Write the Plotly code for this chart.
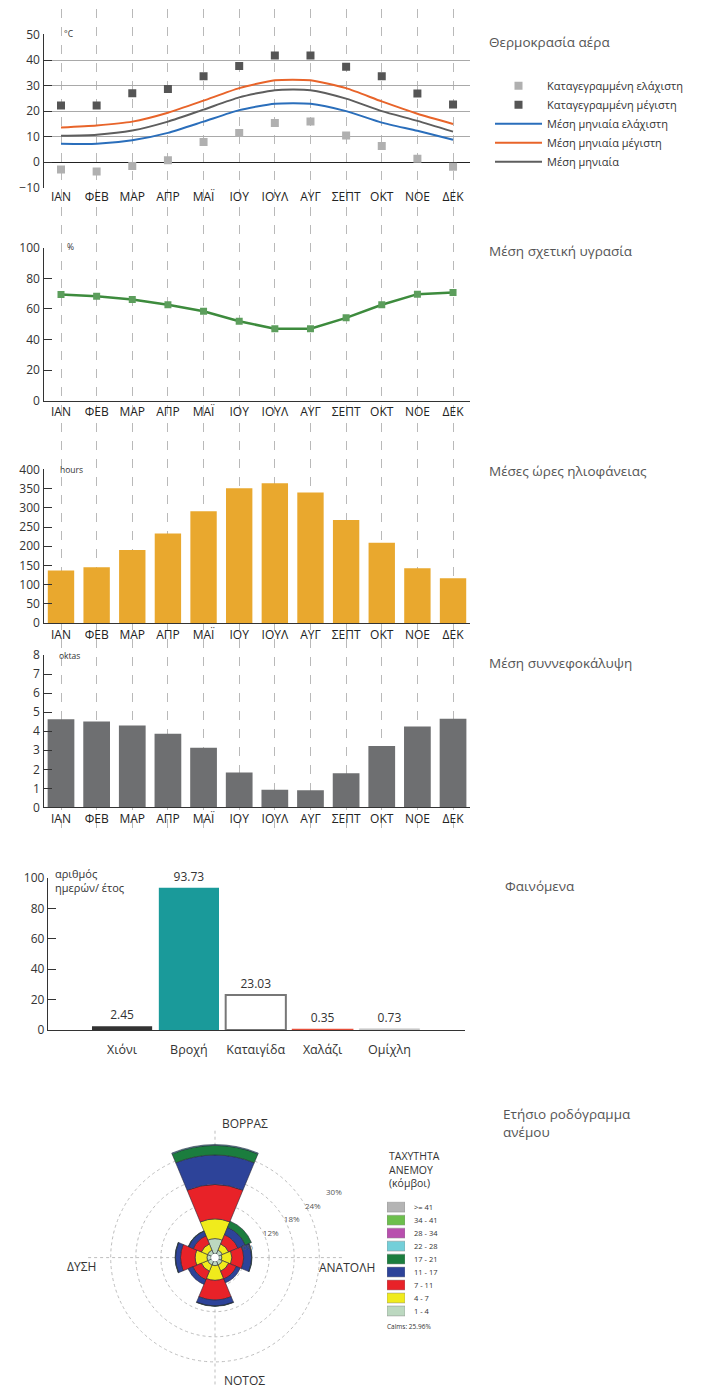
import plotly.graph_objects as go

W, H = 707, 1395

# ---------------- data ----------------
months = ["ΙΑΝ", "ΦΕΒ", "ΜΑΡ", "ΑΠΡ", "ΜΑΪ", "ΙΟΥ", "ΙΟΥΛ", "ΑΥΓ", "ΣΕΠΤ", "ΟΚΤ", "ΝΟΕ", "ΔΕΚ"]
month_idx = list(range(len(months)))

rec_min = [-2.8, -3.6, -1.5, 0.8, 7.9, 11.4, 15.4, 15.9, 10.5, 6.4, 1.4, -1.8]
rec_max = [22.2, 22.2, 27.0, 28.7, 33.7, 37.7, 41.8, 41.8, 37.4, 33.7, 26.9, 22.6]
mean_min = [7.2, 7.2, 8.6, 11.5, 15.9, 20.4, 22.9, 22.9, 20.0, 15.5, 12.3, 8.8]
mean_max = [13.6, 14.4, 15.9, 19.4, 24.1, 29.0, 32.1, 32.1, 29.0, 23.8, 19.0, 15.0]
mean_t = [10.4, 10.8, 12.4, 15.9, 20.6, 25.4, 28.2, 28.2, 24.9, 20.0, 16.2, 12.0]

humidity = [69.5, 68.4, 66.2, 62.8, 58.5, 52.0, 47.1, 47.1, 54.2, 62.8, 69.7, 70.8]
sunshine = [137, 145, 190, 233, 291, 351, 364, 340, 268, 209, 143, 117]
cloud = [4.63, 4.51, 4.30, 3.87, 3.13, 1.83, 0.93, 0.90, 1.80, 3.23, 4.25, 4.65]

temp_ticks = [-10, 0, 10, 20, 30, 40, 50]
temp_grid = [10, 20, 30, 40]
hum_ticks = [0, 20, 40, 60, 80, 100]
sun_ticks = [0, 50, 100, 150, 200, 250, 300, 350, 400]
cloud_ticks = [0, 1, 2, 3, 4, 5, 6, 7, 8]

phen_cats = ["Χιόνι", "Βροχή", "Καταιγίδα", "Χαλάζι", "Ομίχλη"]
phen_vals = [2.45, 93.73, 23.03, 0.35, 0.73]
phen_ticks = [0, 20, 40, 60, 80, 100]

wind_dirs = [0, 45, 90, 135, 180, 225, 270, 315]
speed_classes = ["1 - 4", "4 - 7", "7 - 11", "11 - 17", "17 - 21",
                 "22 - 28", "28 - 34", "34 - 41", ">= 41"]
wind_1_4 = [3.6, 1.0, 0.7, 1.0, 1.0, 1.0, 1.0, 1.0]
wind_4_7 = [4.7, 1.6, 2.4, 1.6, 3.5, 1.6, 2.8, 1.6]
wind_7_11 = [8.2, 2.4, 2.8, 2.0, 4.7, 2.2, 3.5, 2.1]
wind_11_17 = [7.1, 1.9, 1.9, 1.0, 1.4, 1.2, 1.2, 1.2]
wind_17_21 = [2.3, 1.6, 0.1, 0.0, 0.1, 0.0, 0.1, 0.1]
wind_22_28 = [0.2, 0.0, 0.0, 0.0, 0.0, 0.0, 0.0, 0.0]
wind_28_34 = [0.0, 0.0, 0.0, 0.0, 0.0, 0.0, 0.0, 0.0]
wind_34_41 = [0.0, 0.0, 0.0, 0.0, 0.0, 0.0, 0.0, 0.0]
wind_ge_41 = [0.0, 0.0, 0.0, 0.0, 0.0, 0.0, 0.0, 0.0]
wind_radial_ticks = [6, 12, 18, 24, 30]
calms_pct = 25.96
legend_swatch = [1, 1, 1, 1, 1, 1, 1, 1, 1]

# ---------------- styles ----------------
FONT = "Open Sans"
DARK = "#333333"
speed_colors = ["#bcd8c0", "#f0eb1c", "#e82228", "#2d4399", "#1b7d3e",
                "#73cfd9", "#b84fae", "#6cbf4c", "#b4b4b4"]
wind_series = [wind_1_4, wind_4_7, wind_7_11, wind_11_17, wind_17_21,
               wind_22_28, wind_28_34, wind_34_41, wind_ge_41]
phen_colors = ["#333333", "#1a9a9a", "#ffffff", "#e6503c", "#c8c8c8"]
phen_line_colors = ["#333333", "#1a9a9a", "#777777", "#e6503c", "#c8c8c8"]
phen_line_widths = [0, 0, 2, 1.5, 0.6]


def ydom(top, bottom):
    return [1 - bottom / H, 1 - top / H]


def xdom(left, right):
    return [left / W, right / W]


MX = xdom(43.5, 470)
MRANGE = [-0.491, 11.476]

fig = go.Figure()

# background dashed month lines (primary subplot, drawn first)
fig.add_trace(go.Scatter(x=[], y=[], xaxis="x", yaxis="y", showlegend=False, hoverinfo="skip"))

# temperature
fig.add_trace(go.Scatter(x=month_idx, y=rec_min, mode="markers", name="Καταγεγραμμένη ελάχιστη",
                         marker=dict(symbol="square", size=8, color="#b0b0b0"),
                         xaxis="x2", yaxis="y2", legendrank=1))
fig.add_trace(go.Scatter(x=month_idx, y=rec_max, mode="markers", name="Καταγεγραμμένη μέγιστη",
                         marker=dict(symbol="square", size=8, color="#555555"),
                         xaxis="x2", yaxis="y2", legendrank=2))
fig.add_trace(go.Scatter(x=month_idx, y=mean_min, mode="lines", name="Μέση μηνιαία ελάχιστη",
                         line=dict(color="#2a6ebb", width=2, shape="spline", smoothing=0.6),
                         xaxis="x2", yaxis="y2", legendrank=3))
fig.add_trace(go.Scatter(x=month_idx, y=mean_max, mode="lines", name="Μέση μηνιαία μέγιστη",
                         line=dict(color="#e8642a", width=2, shape="spline", smoothing=0.6),
                         xaxis="x2", yaxis="y2", legendrank=4))
fig.add_trace(go.Scatter(x=month_idx, y=mean_t, mode="lines", name="Μέση μηνιαία",
                         line=dict(color="#5e5e5e", width=2, shape="spline", smoothing=0.6),
                         xaxis="x2", yaxis="y2", legendrank=5))
fig.add_trace(go.Scatter(x=[], y=[], xaxis="x2", yaxis="y7", showlegend=False, hoverinfo="skip"))

# humidity
fig.add_trace(go.Scatter(x=month_idx, y=humidity, mode="lines+markers", showlegend=False,
                         line=dict(color="#3d8b3d", width=2.5),
                         marker=dict(symbol="square", size=7, color="#5c9e5c"),
                         xaxis="x3", yaxis="y3"))
# sunshine
fig.add_trace(go.Bar(x=month_idx, y=sunshine, width=0.74, marker=dict(color="#e9a82e", line=dict(width=0)),
                     showlegend=False, xaxis="x4", yaxis="y4"))
# cloud
fig.add_trace(go.Bar(x=month_idx, y=cloud, width=0.75, marker=dict(color="#6e6f71", line=dict(width=0)),
                     showlegend=False, xaxis="x5", yaxis="y5"))
# phenomena
fig.add_trace(go.Bar(x=phen_cats, y=phen_vals, width=0.9,
                     marker=dict(color=phen_colors, line=dict(color=phen_line_colors, width=phen_line_widths)),
                     text=[f"{v:.2f}" for v in phen_vals], textposition="outside",
                     textfont=dict(size=12, color=DARK, family=FONT), cliponaxis=False,
                     showlegend=False, xaxis="x6", yaxis="y6"))

# wind rose
for name, vals, col in zip(speed_classes, wind_series, speed_colors):
    fig.add_trace(go.Barpolar(r=vals, theta=wind_dirs, width=45, name=name, showlegend=False,
                              marker=dict(color=col, line=dict(color="#2a2a3a", width=0.6)),
                              subplot="polar"))

# wind legend as a tiny bar chart
fig.add_trace(go.Bar(y=speed_classes, x=legend_swatch, orientation="h", width=0.76,
                     marker=dict(color=speed_colors, line=dict(color="#8a8a8a", width=0.5)),
                     showlegend=False, xaxis="x8", yaxis="y8", hoverinfo="skip"))

yax_common = dict(ticks="inside", ticklen=8, tickcolor=DARK, tickwidth=1.2,
                  showline=True, linecolor=DARK, linewidth=1.3, showgrid=False, zeroline=False,
                  tickfont=dict(size=12, color=DARK, family=FONT))
xmonth_common = dict(domain=MX, range=MRANGE, tickmode="array", tickvals=month_idx, ticktext=months,
                     ticks="", showgrid=False, zeroline=False,
                     tickfont=dict(size=12, color="#222222", family=FONT))

fig.update_layout(
    width=W, height=H,
    margin=dict(l=0, r=0, t=0, b=0),
    paper_bgcolor="white", plot_bgcolor="rgba(0,0,0,0)",
    font=dict(family=FONT, color=DARK),
    barmode="overlay",
    # dashed month guide lines
    xaxis=dict(domain=MX, range=MRANGE, tickmode="array", tickvals=month_idx, showticklabels=False,
               ticks="", showgrid=True, griddash="dash", gridcolor="#b9b9b9", gridwidth=1,
               zeroline=False, showline=False, anchor="y"),
    yaxis=dict(domain=ydom(0, 838), range=[0, 1], visible=False, showgrid=False, anchor="x"),
    # temperature
    xaxis2=dict(anchor="y2", showline=False, **xmonth_common),
    yaxis2=dict(anchor="x2", domain=ydom(25.8, 181), range=[-10, 50], tickmode="array",
                tickvals=temp_ticks, **{**yax_common, "zeroline": True},
                zerolinecolor="#222222", zerolinewidth=1.2),
    yaxis7=dict(anchor="x2", overlaying="y2", range=[-10, 50], tickmode="array", tickvals=temp_grid,
                showticklabels=False, ticks="", showgrid=True, gridcolor="#a9a9a9", gridwidth=1,
                zeroline=False, showline=False),
    # humidity
    xaxis3=dict(anchor="y3", showline=True, linecolor=DARK, linewidth=1.3, **xmonth_common),
    yaxis3=dict(anchor="x3", domain=ydom(241.7, 396.7), range=[0, 100], tickmode="array",
                tickvals=hum_ticks, **yax_common),
    # sunshine
    xaxis4=dict(anchor="y4", showline=True, linecolor=DARK, linewidth=1.3, **xmonth_common),
    yaxis4=dict(anchor="x4", domain=ydom(466, 621.7), range=[0, 400], tickmode="array",
                tickvals=sun_ticks, **yax_common),
    # cloud
    xaxis5=dict(anchor="y5", showline=True, linecolor=DARK, linewidth=1.3, **xmonth_common),
    yaxis5=dict(anchor="x5", domain=ydom(654, 808.3), range=[0, 8], tickmode="array",
                tickvals=cloud_ticks, **yax_common),
    # phenomena
    xaxis6=dict(anchor="y6", domain=xdom(48, 465), range=[-1.108, 5.13], type="category",
                showline=True, linecolor=DARK, linewidth=1.3, ticks="", showgrid=False,
                ticklabelstandoff=8, tickfont=dict(size=12.5, color=DARK, family=FONT)),
    yaxis6=dict(anchor="x6", domain=ydom(880, 1033.5), range=[0, 100], tickmode="array",
                tickvals=phen_ticks, **yax_common),
    # wind legend
    xaxis8=dict(anchor="y8", domain=xdom(387, 405), range=[0, 1], visible=False, showgrid=False),
    yaxis8=dict(anchor="x8", domain=ydom(1206.4, 1324.6), range=[-0.5, 8.5], type="category",
                side="right", showline=False, ticks="", showgrid=False, zeroline=False,
                ticklabelstandoff=8, tickfont=dict(size=7.5, color=DARK, family=FONT)),
    polar=dict(
        domain=dict(x=xdom(215 - 131, 215 + 131), y=[0, 1 - (1264 - 131) / H]),
        bgcolor="rgba(0,0,0,0)", hole=0.03, barmode="stack",
        radialaxis=dict(range=[0, 30], tickmode="array", tickvals=wind_radial_ticks,
                        ticktext=[f"{v}%" for v in wind_radial_ticks], showline=False, ticks="",
                        angle=33, tickangle=33, gridcolor="#bdbdbd", griddash="dot", gridwidth=1,
                        tickfont=dict(size=8, color="#555555", family=FONT), layer="above traces"),
        angularaxis=dict(direction="clockwise", rotation=90, tickmode="array",
                         tickvals=[0, 90, 180, 270], showticklabels=False, ticks="",
                         gridcolor="#bdbdbd", griddash="dot", gridwidth=1, showline=False),
    ),
    legend=dict(x=490 / W, y=1 - 63 / H, xanchor="left", yanchor="top",
                font=dict(size=11, color=DARK, family=FONT), bgcolor="rgba(0,0,0,0)",
                tracegroupgap=0, traceorder="normal", itemwidth=47),
)

titles = [
    (487, 33, "Θερμοκρασία αέρα"),
    (487, 245, "Μέση σχετική υγρασία"),
    (487, 468, "Μέσες ώρες ηλιοφάνειας"),
    (487, 662, "Μέση συννεφοκάλυψη"),
    (503, 888, "Φαινόμενα"),
]
for tx, ty, tt in titles:
    fig.add_annotation(x=tx / W, y=1 - ty / H, xref="paper", yref="paper",
                       text=tt, showarrow=False, xanchor="left", yanchor="middle",
                       font=dict(size=13.5, color="#555555", family=FONT))
fig.add_annotation(x=501 / W, y=1 - 1108 / H, xref="paper", yref="paper",
                   text="Ετήσιο ροδόγραμμα<br>ανέμου", showarrow=False, xanchor="left", yanchor="top",
                   align="left", font=dict(size=13.5, color="#555555", family=FONT))

units = [(62, 25, "°C"), (65, 240, "%"), (58, 466, "hours"), (57, 654, "oktas")]
for ux, uy, ut in units:
    fig.add_annotation(x=ux / W, y=1 - uy / H, xref="paper", yref="paper", text=ut, showarrow=False,
                       xanchor="left", yanchor="middle", font=dict(size=8.5, color=DARK, family=FONT))

fig.add_annotation(x=53 / W, y=1 - 866 / H, xref="paper", yref="paper",
                   text="αριθμός<br>ημερών/ έτος", showarrow=False, xanchor="left", yanchor="top",
                   align="left", font=dict(size=11, color=DARK, family=FONT))

# wind rose direction labels
for lx, ly, lt in [(245, 1128, "ΒΟΡΡΑΣ"), (244, 1388, "ΝΟΤΟΣ"), (81, 1273, "ΔΥΣΗ"), (347, 1274, "ΑΝΑΤΟΛΗ")]:
    fig.add_annotation(x=lx / W, y=1 - ly / H, xref="paper", yref="paper", text=lt, showarrow=False,
                       xanchor="center", yanchor="middle", font=dict(size=12, color=DARK, family=FONT))

fig.add_annotation(x=387 / W, y=1 - 1152 / H, xref="paper", yref="paper",
                   text="ΤΑΧΥΤΗΤΑ<br>ΑΝΕΜΟΥ<br>(κόμβοι)", showarrow=False, xanchor="left", yanchor="top",
                   align="left", font=dict(size=10.5, color=DARK, family=FONT))
fig.add_annotation(x=385 / W, y=1 - 1334 / H, xref="paper", yref="paper",
                   text=f"Calms: {calms_pct:.2f}%", showarrow=False, xanchor="left", yanchor="middle",
                   font=dict(size=6.5, color=DARK, family=FONT))

fig.write_html("out.html")
